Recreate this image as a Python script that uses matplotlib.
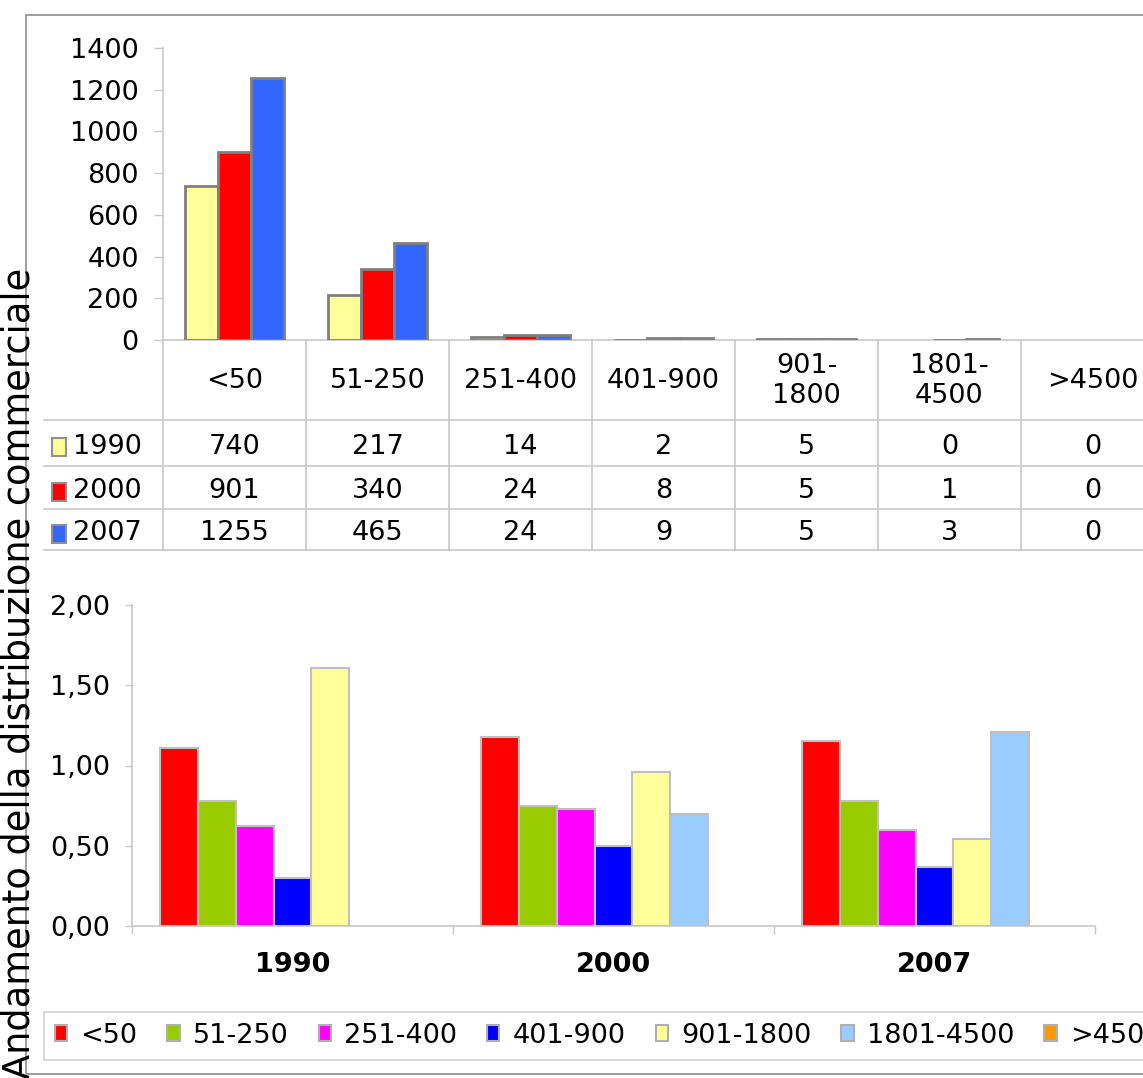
import matplotlib
matplotlib.use('Agg')
import matplotlib.pyplot as plt
from matplotlib.patches import Rectangle
import numpy as np

# classi di superficie (mq)
categories = ['<50', '51-250', '251-400', '401-900', '901-1800', '1801-4500', '>4500']
header_labels = ['<50', '51-250', '251-400', '401-900', '901-\n1800', '1801-\n4500', '>4500']
years = ['1990', '2000', '2007']

# numero esercizi per anno
counts_1990 = [740, 217, 14, 2, 5, 0, 0]
counts_2000 = [901, 340, 24, 8, 5, 1, 0]
counts_2007 = [1255, 465, 24, 9, 5, 3, 0]

# indici per classe (grafico in basso), valori per 1990, 2000, 2007
idx_lt50 = [1.11, 1.18, 1.15]
idx_51_250 = [0.78, 0.75, 0.78]
idx_251_400 = [0.62, 0.73, 0.60]
idx_401_900 = [0.30, 0.50, 0.37]
idx_901_1800 = [1.61, 0.96, 0.54]
idx_1801_4500 = [0.00, 0.70, 1.21]
idx_gt4500 = [0.00, 0.00, 0.00]

year_colors = ['#ffff99', '#ff0000', '#3366ff']
class_colors = ['#ff0000', '#99cc00', '#ff00ff', '#0000ff', '#ffff99', '#99ccff', '#ff9900']

W, H = 1143, 1078
FS = 19.5
GRID = '#c8c8c8'
plt.rcParams['font.family'] = ['DejaVu Sans']

fig = plt.figure(figsize=(W / 100, H / 100), dpi=100)


def box(l, t, r, b):
    return [l / W, 1 - b / H, (r - l) / W, (b - t) / H]


# cornice esterna
fig.patches.append(Rectangle((26 / W, 1 - 1074 / H), 2, (1074 - 15) / H,
                             transform=fig.transFigure, fill=False,
                             edgecolor='#8c8c8c', lw=1.2))

fig.text(0, 1 - 268 / H, 'Andamento della distribuzione commerciale',
         rotation=90, ha='left', va='top', fontsize=26.5)

# ---- grafico in alto ----
ax1 = fig.add_axes(box(163, 48, 1164, 340))
x = np.arange(len(categories))
bw = 0.23
for k, (vals, col) in enumerate(zip([counts_1990, counts_2000, counts_2007], year_colors)):
    lws = [2 if v > 0 else 0 for v in vals]
    ax1.bar(x + (k - 1) * bw, vals, bw, color=col, edgecolor='#808080',
            linewidth=lws, zorder=3)
ax1.set_xlim(-0.5, 6.5)
ax1.set_ylim(0, 1400)
ax1.set_yticks(np.arange(0, 1401, 200))
ax1.set_xticks([])
ax1.tick_params(axis='y', labelsize=FS, length=6.5, width=1, color=GRID, pad=11)
for s in ['top', 'right']:
    ax1.spines[s].set_visible(False)
for s in ['left', 'bottom']:
    ax1.spines[s].set_color(GRID)
    ax1.spines[s].set_linewidth(1.2)

# ---- tabella ----
tb = fig.add_axes(box(20, 340, 1164, 550))
tb.set_xlim(-1.5, 6.5)
tb.set_ylim(210, 0)
tb.axis('off')
line_start = -1.5 + 24 / 143
for xv in np.arange(-0.5, 7, 1):
    tb.plot([xv, xv], [0, 210], color=GRID, lw=1.2, clip_on=False)
row_tops = [80, 126, 169]
row_bots = [126, 169, 210]
for yv in row_tops + [210]:
    tb.plot([line_start, 6.5], [yv, yv], color=GRID, lw=1.2, clip_on=False)
for i, lab in enumerate(header_labels):
    tb.text(i, 41, lab, ha='center', va='center', fontsize=FS, linespacing=1.2)
for r, (yr, vals, col) in enumerate(zip(years, [counts_1990, counts_2000, counts_2007], year_colors)):
    yc = (row_tops[r] + row_bots[r]) / 2 + 4
    tb.add_patch(Rectangle((-1.5 + 32 / 143, yc - 9), 14 / 143, 18, facecolor=col,
                           edgecolor='#909090', lw=1.5))
    tb.text(-1.5 + 53 / 143, yc, yr, ha='left', va='center', fontsize=FS)
    for i, v in enumerate(vals):
        tb.text(i, yc, str(v), ha='center', va='center', fontsize=FS)

# ---- grafico in basso ----
ax2 = fig.add_axes(box(132, 605, 1095, 926))
g = np.arange(len(years))
series = [idx_lt50, idx_51_250, idx_251_400, idx_401_900, idx_901_1800, idx_1801_4500, idx_gt4500]
bw2 = 0.1176
handles = []
for j, (vals, col, lab) in enumerate(zip(series, class_colors, categories)):
    lws = [1.5 if v > 0 else 0 for v in vals]
    ax2.bar(g + (j - 3) * bw2, vals, bw2, color=col, edgecolor='#c0c0c0',
            linewidth=lws, zorder=3, label=lab)
    handles.append(Rectangle((0, 0), 1, 1, facecolor=col, edgecolor='#b0b0b0', lw=1.5))
ax2.set_xlim(-0.5, 2.5)
ax2.set_ylim(0, 2)
ax2.set_yticks(np.arange(0, 2.01, 0.5))
ax2.set_yticklabels([('%.2f' % v).replace('.', ',') for v in np.arange(0, 2.01, 0.5)])
ax2.set_xticks(g)
ax2.set_xticklabels(years, fontweight='bold')
ax2.set_xticks([-0.5, 0.5, 1.5, 2.5], minor=True)
ax2.tick_params(axis='x', which='major', length=0, labelsize=FS, pad=19)
ax2.tick_params(axis='x', which='minor', length=6, width=1, color=GRID)
ax2.tick_params(axis='y', labelsize=FS, length=5, width=1, color=GRID, pad=11)
for s in ['top', 'right']:
    ax2.spines[s].set_visible(False)
for s in ['left', 'bottom']:
    ax2.spines[s].set_color(GRID)
    ax2.spines[s].set_linewidth(1.2)

leg = fig.legend(handles, categories, loc='upper left',
                 bbox_to_anchor=(44 / W, 1 - 1012 / H), borderaxespad=0,
                 ncol=7, fontsize=FS, frameon=True, fancybox=False,
                 borderpad=0.4, handlelength=0.45, handleheight=0.55,
                 handletextpad=0.5, columnspacing=1.1)
leg.get_frame().set_edgecolor(GRID)
leg.get_frame().set_linewidth(1.2)

fig.savefig('out.png', dpi=100)
